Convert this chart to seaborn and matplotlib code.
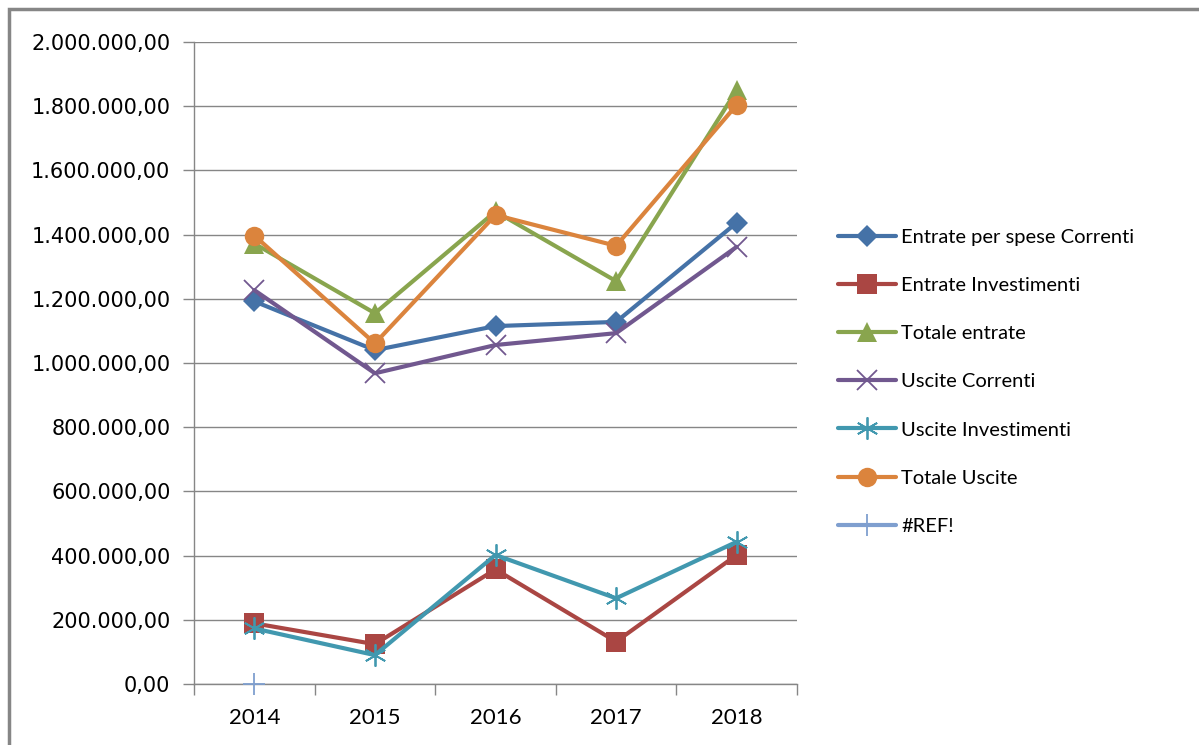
import numpy as np
import pandas as pd
import seaborn as sns
import matplotlib.pyplot as plt
from matplotlib.ticker import FuncFormatter, FixedLocator, NullFormatter
from matplotlib.patches import Rectangle

years = ['2014', '2015', '2016', '2017', '2018']

entrate_correnti = [1192000, 1040000, 1115000, 1128000, 1437000]
entrate_investimenti = [189000, 124000, 357000, 132000, 402000]
totale_entrate = [1372000, 1155000, 1472000, 1255000, 1850000]
uscite_correnti = [1227000, 968000, 1056000, 1093000, 1362000]
uscite_investimenti = [173000, 90000, 402000, 267000, 443000]
totale_uscite = [1397000, 1061000, 1461000, 1365000, 1804000]
ref_err = [0, np.nan, np.nan, np.nan, np.nan]

series = [
    ('Entrate per spese Correnti', entrate_correnti, '#4572A7', 'D', 11),
    ('Entrate Investimenti', entrate_investimenti, '#AA4643', 's', 14),
    ('Totale entrate', totale_entrate, '#89A54E', '^', 14),
    ('Uscite Correnti', uscite_correnti, '#71588F', 'x', 14),
    ('Uscite Investimenti', uscite_investimenti, '#4198AF', (6, 2, 0), 16),
    ('Totale Uscite', totale_uscite, '#DB843D', 'o', 14),
    ('#REF!', ref_err, '#7F9FCF', '+', 16),
]

sns.set_style('white')
plt.rcParams['font.family'] = ['DejaVu Sans']
plt.rcParams['text.color'] = 'black'
plt.rcParams['xtick.labelcolor'] = 'black'
plt.rcParams['ytick.labelcolor'] = 'black'

fig = plt.figure(figsize=(11.99, 7.45), dpi=100)
ax = fig.add_axes([194 / 1199, 1 - 684 / 745, (797 - 194) / 1199, (684 - 42) / 745])

x = np.arange(len(years))
for name, vals, col, mk, ms in series:
    thin = mk in ('x', '+') or isinstance(mk, tuple)
    sns.lineplot(x=x, y=vals, ax=ax, color=col, label=name, linewidth=3,
                 marker=mk, markersize=ms, markeredgewidth=1.3 if thin else 0,
                 markeredgecolor=col, markerfacecolor=col, zorder=3, clip_on=False)

grid_col = '#868686'
ax.set_xlim(-0.5, 4.5)
ax.set_ylim(0, 2000000)
ax.set_yticks(np.arange(0, 2000001, 200000))
ax.yaxis.set_major_formatter(FuncFormatter(
    lambda v, p: f'{v:,.2f}'.replace(',', 'X').replace('.', ',').replace('X', '.')))
ax.grid(axis='y', color=grid_col, linewidth=1)
ax.set_axisbelow(True)

ax.xaxis.set_major_locator(FixedLocator(np.arange(-0.5, 5, 1)))
ax.xaxis.set_major_formatter(NullFormatter())
ax.xaxis.set_minor_locator(FixedLocator(x))
ax.set_xticklabels(years, minor=True)
ax.tick_params(axis='x', which='major', length=8, width=1, color=grid_col, direction='out', bottom=True)
ax.tick_params(axis='x', which='minor', length=0, pad=17, labelsize=16)
ax.tick_params(axis='y', length=8, width=1, color=grid_col, direction='out', left=True, labelsize=15, pad=9)
for lbl in ax.get_xticklabels(minor=True):
    lbl.set_fontfamily(['Lato', 'DejaVu Sans'])

for s in ['top', 'right']:
    ax.spines[s].set_visible(False)
for s in ['left', 'bottom']:
    ax.spines[s].set_color(grid_col)
    ax.spines[s].set_linewidth(1)

ax.get_legend().remove()
handles, labels = ax.get_legend_handles_labels()
fig.legend(handles, labels, loc='upper left', bbox_to_anchor=(838 / 1199, 1 - 229 / 745),
           frameon=False, borderpad=0, borderaxespad=0, handlelength=2.9,
           handletextpad=0.25, labelspacing=1.54,
           prop={'family': ['Lato', 'DejaVu Sans'], 'size': 14.5})

# outer chart frame
fig.patches.append(Rectangle((9 / 1199, -0.05), 1.2, 1 - 9 / 745 + 0.05,
                             transform=fig.transFigure, fill=False,
                             edgecolor=grid_col, linewidth=2.5))

fig.savefig('out.png', dpi=100)
